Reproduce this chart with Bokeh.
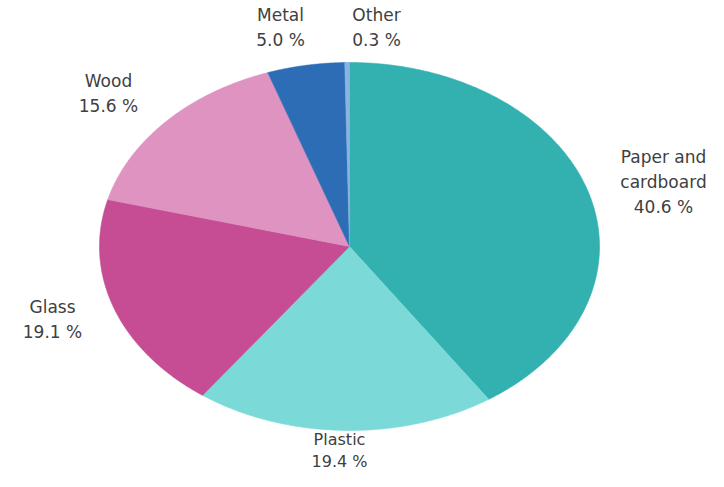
import numpy as np
from bokeh.plotting import figure
from bokeh.models import Range1d, ColumnDataSource
from bokeh.core.properties import value
from bokeh.embed import file_html
from bokeh.resources import INLINE

# ---- data ----
categories = ["Paper and cardboard", "Plastic", "Glass", "Wood", "Metal", "Other"]
label_names = ["Paper and\ncardboard", "Plastic", "Glass", "Wood", "Metal", "Other"]
shares = [40.6, 19.4, 19.1, 15.6, 5.0, 0.3]
colors = ["#33B0B0", "#7BDAD8", "#C64D94", "#DE93C1", "#2C6DB5", "#8AB2E2"]

# ---- layout (pixel-like data coordinates) ----
W, H = 708, 471
cx, cy, rx, ry = 349, 246, 250, 184
label_pos = [(663, 181), (339, 450), (52, 319), (108, 93), (280, 27), (376, 27)]

p = figure(width=W, height=H, output_backend="svg", toolbar_location=None,
           x_range=Range1d(0, W), y_range=Range1d(H, 0),
           min_border=0, outline_line_color=None)
p.axis.visible = False
p.grid.visible = False
p.background_fill_color = "white"
p.border_fill_color = "white"

total = float(sum(shares))
cum = np.concatenate([[0.0], np.cumsum(shares)]) / total
xs, ys = [], []
for i in range(len(shares)):
    t = np.linspace(cum[i], cum[i + 1], 200) * 2 * np.pi
    xs.append([cx] + list(cx + rx * np.sin(t)) + [cx])
    ys.append([cy] + list(cy - ry * np.cos(t)) + [cy])

src = ColumnDataSource(dict(xs=xs, ys=ys, color=colors, cat=categories))
p.patches("xs", "ys", source=src, fill_color="color", line_color="color", line_width=0.6)

texts = [f"{n}\n{v:.1f} %" for n, v in zip(label_names, shares)]
main_idx = [i for i in range(len(texts)) if i != 1]
lsrc = ColumnDataSource(dict(x=[label_pos[i][0] for i in main_idx],
                             y=[label_pos[i][1] for i in main_idx],
                             text=[texts[i] for i in main_idx]))
p.text("x", "y", text="text", source=lsrc, text_align="center", text_baseline="middle",
       text_font=value("DejaVu Sans"), text_font_size="17px", text_color="#404040",
       text_line_height=1.25)

bsrc = ColumnDataSource(dict(x=[label_pos[1][0]], y=[label_pos[1][1]], text=[texts[1]]))
p.text("x", "y", text="text", source=bsrc, text_align="center", text_baseline="middle",
       text_font=value("DejaVu Sans"), text_font_size="16px", text_color="#404040",
       text_line_height=1.15)

open("out.html", "w").write(file_html(p, INLINE))
